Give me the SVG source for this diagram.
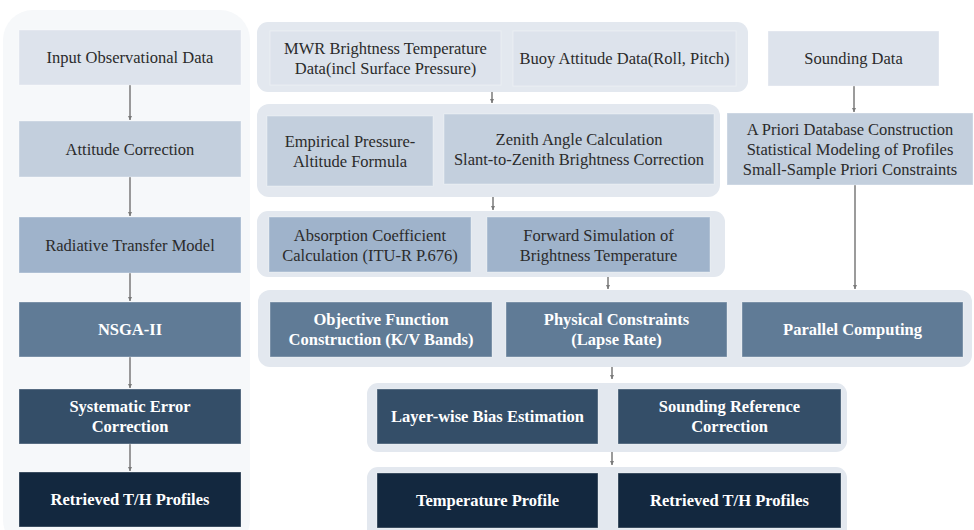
<svg xmlns="http://www.w3.org/2000/svg" width="974" height="530" viewBox="0 0 974 530" font-family="'Liberation Serif', 'Times New Roman', 'DejaVu Serif', serif">
<defs>
<marker id="ah" viewBox="0 0 10 10" refX="10" refY="5" markerWidth="4" markerHeight="4" orient="auto" markerUnits="userSpaceOnUse">
<path d="M0,0 L10,5 L0,10 z" fill="#7a7a7a"/>
</marker>
<style>
text{font-family:'Liberation Serif','Times New Roman',serif;font-size:16.5px;text-anchor:middle}
.d{fill:#2b2b2b}
.w{fill:#ffffff;font-weight:bold}
.b rect{stroke:#ffffff;stroke-opacity:0.35;stroke-width:1}
.c1{fill:#dde3ec}
.c2{fill:#c3cfdd}
.c3{fill:#9fb3cb}
.c4{fill:#607b96}
.c5{fill:#344e68}
.c6{fill:#13283f}
.grp{fill:#e3e8ef}
.conn line{stroke:#7a7a7a;stroke-width:1.5;marker-end:url(#ah)}
</style>
</defs>
<rect width="974" height="530" fill="#ffffff"/>
<rect x="3" y="10" width="247" height="540" rx="30" fill="#f6f8fa"/>
<g id="groups">
<rect class="grp" x="257" y="22" width="491" height="70" rx="11"/>
<rect class="grp" x="257" y="104" width="463" height="93" rx="12"/>
<rect class="grp" x="257" y="211" width="468" height="66" rx="11"/>
<rect class="grp" x="258" y="290" width="714" height="77" rx="12"/>
<rect class="grp" x="367" y="383" width="480" height="69" rx="11"/>
<rect class="grp" x="367" y="467" width="480" height="80" rx="11"/>
</g>
<g id="connectors" class="conn">
<line x1="130" y1="85" x2="130" y2="120"/>
<line x1="130" y1="177" x2="130" y2="216"/>
<line x1="130" y1="273" x2="130" y2="301"/>
<line x1="130" y1="357" x2="130" y2="388"/>
<line x1="130" y1="444" x2="130" y2="471"/>
<line x1="492" y1="92" x2="492" y2="103"/>
<line x1="493" y1="197" x2="493" y2="210"/>
<line x1="608" y1="277" x2="608" y2="289"/>
<line x1="612" y1="367" x2="612" y2="379"/>
<line x1="612" y1="452" x2="612" y2="465"/>
<line x1="854" y1="86" x2="854" y2="112"/>
<line x1="855" y1="185" x2="855" y2="289"/>
</g>
<g id="n-input" class="b"><rect class="c1" x="19" y="30" width="222" height="55"/><text class="d" x="130" y="63">Input Observational Data</text></g>
<g id="n-attitude" class="b"><rect class="c2" x="19" y="121" width="222" height="56"/><text class="d" x="130" y="155">Attitude Correction</text></g>
<g id="n-rtm" class="b"><rect class="c3" x="19" y="217" width="222" height="56"/><text class="d" x="130" y="251">Radiative Transfer Model</text></g>
<g id="n-nsga" class="b"><rect class="c4" x="19" y="302" width="222" height="55"/><text class="w" x="130" y="335">NSGA-II</text></g>
<g id="n-syserr" class="b"><rect class="c5" x="19" y="389" width="222" height="55"/><text class="w" x="130" y="412">Systematic Error</text><text class="w" x="130" y="432">Correction</text></g>
<g id="n-retrieved-left" class="b"><rect class="c6" x="19" y="472" width="222" height="55"/><text class="w" x="130" y="505">Retrieved T/H Profiles</text></g>

<g id="n-mwr" class="b"><rect class="c1" x="270" y="31" width="231" height="54"/><text class="d" x="385.5" y="54">MWR Brightness Temperature</text><text class="d" x="385.5" y="74">Data(incl Surface Pressure)</text></g>
<g id="n-buoy" class="b"><rect class="c1" x="513" y="31" width="223" height="55"/><text class="d" x="624.5" y="64">Buoy Attitude Data(Roll, Pitch)</text></g>
<g id="n-sounding" class="b"><rect class="c1" x="768" y="31" width="171" height="55"/><text class="d" x="853.5" y="64">Sounding Data</text></g>

<g id="n-empirical" class="b"><rect class="c2" x="267" y="116" width="166" height="70"/><text class="d" x="350" y="147">Empirical Pressure-</text><text class="d" x="350" y="167">Altitude Formula</text></g>
<g id="n-zenith" class="b"><rect class="c2" x="444" y="114" width="270" height="70"/><text class="d" x="579" y="145">Zenith Angle Calculation</text><text class="d" x="579" y="165">Slant-to-Zenith Brightness Correction</text></g>
<g id="n-priori" class="b"><rect class="c2" x="727" y="113" width="246" height="72"/><text class="d" x="850" y="135">A Priori Database Construction</text><text class="d" x="850" y="155">Statistical Modeling of Profiles</text><text class="d" x="850" y="175">Small-Sample Priori Constraints</text></g>

<g id="n-absorption" class="b"><rect class="c3" x="269" y="217" width="202" height="55"/><text class="d" x="370" y="241">Absorption Coefficient</text><text class="d" x="370" y="261">Calculation (ITU-R P.676)</text></g>
<g id="n-forward" class="b"><rect class="c3" x="487" y="217" width="223" height="55"/><text class="d" x="598.5" y="241">Forward Simulation of</text><text class="d" x="598.5" y="261">Brightness Temperature</text></g>

<g id="n-objective" class="b"><rect class="c4" x="270" y="302" width="222" height="55"/><text class="w" x="381" y="325">Objective Function</text><text class="w" x="381" y="345">Construction (K/V Bands)</text></g>
<g id="n-physical" class="b"><rect class="c4" x="506" y="302" width="221" height="55"/><text class="w" x="616.5" y="325">Physical Constraints</text><text class="w" x="616.5" y="345">(Lapse Rate)</text></g>
<g id="n-parallel" class="b"><rect class="c4" x="742" y="302" width="221" height="55"/><text class="w" x="852.5" y="335">Parallel Computing</text></g>

<g id="n-layerwise" class="b"><rect class="c5" x="377" y="389" width="221" height="55"/><text class="w" x="487.5" y="422">Layer-wise Bias Estimation</text></g>
<g id="n-soundref" class="b"><rect class="c5" x="618" y="389" width="223" height="55"/><text class="w" x="729.5" y="412">Sounding Reference</text><text class="w" x="729.5" y="432">Correction</text></g>

<g id="n-temp" class="b"><rect class="c6" x="377" y="473" width="221" height="55"/><text class="w" x="487.5" y="506">Temperature Profile</text></g>
<g id="n-retrieved-right" class="b"><rect class="c6" x="618" y="473" width="223" height="55"/><text class="w" x="729.5" y="506">Retrieved T/H Profiles</text></g>
</svg>
